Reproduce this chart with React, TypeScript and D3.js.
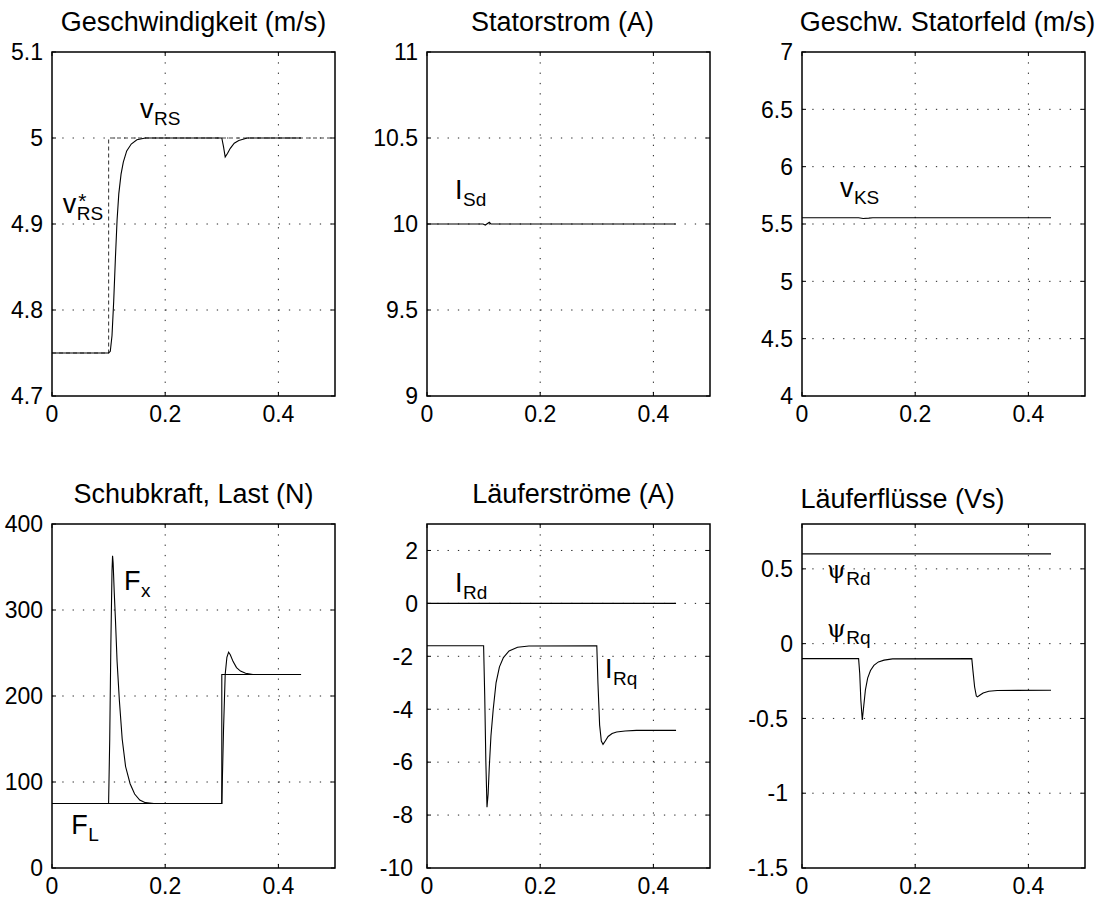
import React, { useRef, useEffect } from 'react';
import * as d3 from 'd3';

type Pt = [number, number];

// x axis is the same for all six panels (time in s)
const xTicks = [0, 0.2, 0.4];

// Geschwindigkeit
const vRefData: Pt[] = [[0, 4.75], [0.1, 4.75], [0.1, 5.0], [0.5, 5.0]];
const vRSData: Pt[] = [
  [0, 4.75], [0.1, 4.75], [0.103, 4.752], [0.106, 4.77], [0.109, 4.81], [0.112, 4.86],
  [0.115, 4.905], [0.118, 4.935], [0.122, 4.958], [0.126, 4.972], [0.132, 4.985],
  [0.14, 4.993], [0.15, 4.998], [0.165, 5.0], [0.3, 5.0], [0.303, 4.99], [0.306, 4.978],
  [0.31, 4.982], [0.315, 4.988], [0.322, 4.994], [0.33, 4.997], [0.345, 5.0], [0.44, 5.0],
];

// Statorstrom
const iSdData: Pt[] = [
  [0, 10], [0.099, 10], [0.103, 9.994], [0.107, 10.003], [0.11, 10.01], [0.113, 10.0],
  [0.3, 10], [0.44, 10],
];

// Geschw. Statorfeld
const vKSData: Pt[] = [
  [0, 5.555], [0.1, 5.555], [0.108, 5.548], [0.118, 5.551], [0.125, 5.555], [0.44, 5.555],
];

// Schubkraft, Last
const fLData: Pt[] = [[0, 75], [0.3, 75], [0.3, 225], [0.44, 225]];
const fXData: Pt[] = [
  [0, 75], [0.1, 75], [0.102, 150], [0.104, 260], [0.106, 345], [0.107, 363], [0.108, 355],
  [0.11, 320], [0.112, 290], [0.115, 240], [0.119, 195], [0.124, 150], [0.13, 118],
  [0.138, 98], [0.146, 86], [0.155, 79], [0.165, 76], [0.18, 75], [0.3, 75], [0.303, 160],
  [0.306, 225], [0.309, 245], [0.312, 251], [0.315, 248], [0.32, 240], [0.326, 233],
  [0.333, 229], [0.342, 226.5], [0.355, 225], [0.44, 225],
];

// Läuferströme
const iRdData: Pt[] = [[0, 0], [0.44, 0]];
const iRqData: Pt[] = [
  [0, -1.6], [0.1, -1.6], [0.102, -3.5], [0.104, -6.0], [0.106, -7.7], [0.108, -7.2],
  [0.11, -6.2], [0.113, -5.0], [0.117, -4.0], [0.122, -3.0], [0.128, -2.4], [0.135, -2.05],
  [0.145, -1.8], [0.16, -1.66], [0.18, -1.61], [0.3, -1.6], [0.302, -3.0], [0.305, -4.6],
  [0.308, -5.2], [0.311, -5.33], [0.315, -5.2], [0.32, -5.03], [0.327, -4.92],
  [0.335, -4.86], [0.35, -4.82], [0.37, -4.8], [0.44, -4.8],
];

// Läuferflüsse
const psiRdData: Pt[] = [[0, 0.6], [0.44, 0.6]];
const psiRqData: Pt[] = [
  [0, -0.1], [0.1, -0.1], [0.102, -0.2], [0.104, -0.38], [0.1065, -0.51], [0.109, -0.42],
  [0.112, -0.31], [0.116, -0.23], [0.121, -0.18], [0.127, -0.145], [0.135, -0.122],
  [0.145, -0.11], [0.16, -0.102], [0.3, -0.1], [0.302, -0.18], [0.305, -0.29],
  [0.308, -0.35], [0.31, -0.356], [0.314, -0.345], [0.32, -0.33], [0.33, -0.318],
  [0.345, -0.313], [0.44, -0.312],
];

const panels = [
  {
    title: 'Geschwindigkeit (m/s)', col: 0, row: 0, yDomain: [4.7, 5.1], yTicks: [4.7, 4.8, 4.9, 5, 5.1],
    series: [{ data: vRefData, dashed: true }, { data: vRSData }],
    labels: [
      { t: 0.1555, v: 5.023, main: 'v', sub: 'RS' },
      { t: 0.019, v: 4.913, main: 'v', sub: 'RS', sup: '*' },
    ],
  },
  {
    title: 'Statorstrom (A)', col: 1, row: 0, yDomain: [9, 11], yTicks: [9, 9.5, 10, 10.5, 11],
    titleDx: -6,
    series: [{ data: iSdData }],
    labels: [{ t: 0.0495, v: 10.145, main: 'I', sub: 'Sd' }],
  },
  {
    title: 'Geschw. Statorfeld (m/s)', col: 2, row: 0, yDomain: [4, 7], yTicks: [4, 4.5, 5, 5.5, 6, 6.5, 7],
    titleDx: 4,
    series: [{ data: vKSData }],
    labels: [{ t: 0.067, v: 5.736, main: 'v', sub: 'KS' }],
  },
  {
    title: 'Schubkraft, Last (N)', col: 0, row: 1, yDomain: [0, 400], yTicks: [0, 100, 200, 300, 400],
    series: [{ data: fLData }, { data: fXData }],
    labels: [
      { t: 0.127, v: 323, main: 'F', sub: 'x' },
      { t: 0.034, v: 39.5, main: 'F', sub: 'L' },
    ],
  },
  {
    title: 'Läuferströme (A)', col: 1, row: 1, yDomain: [-10, 3], yTicks: [-10, -8, -6, -4, -2, 0, 2],
    titleDx: 5,
    series: [{ data: iRdData }, { data: iRqData }],
    labels: [
      { t: 0.0495, v: 0.424, main: 'I', sub: 'Rd' },
      { t: 0.3145, v: -2.83, main: 'I', sub: 'Rq' },
    ],
  },
  {
    title: 'Läuferflüsse (Vs)', col: 2, row: 1, yDomain: [-1.5, 0.8], yTicks: [-1.5, -1, -0.5, 0, 0.5],
    titleDx: -41, titleDy: 5,
    series: [{ data: psiRdData }, { data: psiRqData }],
    labels: [
      { t: 0.044, v: 0.438, main: 'ψ', sub: 'Rd', serif: true },
      { t: 0.044, v: 0.042, main: 'ψ', sub: 'Rq', serif: true },
    ],
  },
];

const W = 1109;
const H = 899;
const colX = [52, 427, 802];
const rowY = [52, 524];
const titleBase = [31, 503];
const plotW = 283;
const plotH = 344;
const FONT = '"Liberation Sans", Arial, Helvetica, sans-serif';

function App() {
  const svgRef = useRef<SVGSVGElement>(null);

  useEffect(() => {
    const root = d3.select(svgRef.current);
    root.selectAll('*').remove();

    panels.forEach((p: any) => {
      const x0 = colX[p.col];
      const y0 = rowY[p.row];
      const x = d3.scaleLinear().domain([0, 0.5]).range([0, plotW]);
      const y = d3.scaleLinear().domain(p.yDomain).range([plotH, 0]);

      const g = root.append('g').attr('transform', `translate(${x0},${y0})`);

      // grid (dotted)
      const gridX = xTicks.filter(t => t > 0 && t < 0.5);
      const gridY = p.yTicks.filter((v: number) => v > p.yDomain[0] && v < p.yDomain[1]);
      g.selectAll('.gx').data(gridX).enter().append('line')
        .attr('x1', d => x(d)).attr('x2', d => x(d)).attr('y1', 0).attr('y2', plotH)
        .attr('stroke', '#222').attr('stroke-width', 1).attr('stroke-dasharray', '1.3,9');
      g.selectAll('.gy').data(gridY).enter().append('line')
        .attr('x1', 0).attr('x2', plotW).attr('y1', (d: number) => y(d)).attr('y2', (d: number) => y(d))
        .attr('stroke', '#222').attr('stroke-width', 1).attr('stroke-dasharray', '1.3,9');

      // curves
      const line = d3.line<Pt>().x(d => x(d[0])).y(d => y(d[1]));
      p.series.forEach((s: any) => {
        g.append('path')
          .datum(s.data)
          .attr('d', line)
          .attr('fill', 'none')
          .attr('stroke', s.dashed ? '#444' : '#000')
          .attr('stroke-width', 1.1)
          .attr('stroke-dasharray', s.dashed ? '4,3' : null);
      });

      // frame
      g.append('rect')
        .attr('x', 0).attr('y', 0).attr('width', plotW).attr('height', plotH)
        .attr('fill', 'none').attr('stroke', '#000').attr('stroke-width', 1.5);

      // inward ticks on all four sides
      const tl = 4;
      xTicks.forEach(t => {
        g.append('line').attr('x1', x(t)).attr('x2', x(t)).attr('y1', plotH).attr('y2', plotH - tl).attr('stroke', '#000');
        g.append('line').attr('x1', x(t)).attr('x2', x(t)).attr('y1', 0).attr('y2', tl).attr('stroke', '#000');
      });
      p.yTicks.forEach((v: number) => {
        g.append('line').attr('x1', 0).attr('x2', tl).attr('y1', y(v)).attr('y2', y(v)).attr('stroke', '#000');
        g.append('line').attr('x1', plotW).attr('x2', plotW - tl).attr('y1', y(v)).attr('y2', y(v)).attr('stroke', '#000');
      });

      // tick labels
      g.selectAll('.xl').data(xTicks).enter().append('text')
        .attr('x', d => x(d)).attr('y', plotH + 26)
        .attr('text-anchor', 'middle')
        .style('font-family', FONT).style('font-size', '23px').attr('fill', '#000')
        .text(d => String(d));
      g.selectAll('.yl').data(p.yTicks).enter().append('text')
        .attr('x', (d: number) => (d < 0 ? -14 : -9)).attr('y', (d: number) => y(d))
        .attr('dy', '0.36em')
        .attr('text-anchor', 'end')
        .style('font-family', FONT).style('font-size', '23px').attr('fill', '#000')
        .text((d: number) => String(d));

      // title
      g.append('text')
        .attr('x', plotW / 2 + (p.titleDx || 0))
        .attr('y', titleBase[p.row] - y0 + (p.titleDy || 0))
        .attr('text-anchor', 'middle')
        .style('font-family', FONT).style('font-size', '27px').attr('fill', '#000')
        .text(p.title);

      // curve labels with subscript / superscript
      p.labels.forEach((l: any) => {
        const lx = x(l.t);
        const ly = y(l.v);
        const m = g.append('text')
          .attr('x', lx).attr('y', ly)
          .style('font-family', l.serif ? '"DejaVu Serif", "Liberation Serif", serif' : FONT)
          .style('font-size', l.serif ? '24px' : '27px')
          .attr('fill', '#000')
          .text(l.main);
        const w = (m.node() as SVGTextElement).getComputedTextLength();
        g.append('text')
          .attr('x', lx + w + 0.5).attr('y', ly + 7)
          .style('font-family', FONT).style('font-size', '19px').attr('fill', '#000')
          .text(l.sub);
        if (l.sup) {
          g.append('text')
            .attr('x', lx + w + 2).attr('y', ly - 5)
            .style('font-family', FONT).style('font-size', '21px').attr('fill', '#000')
            .text(l.sup);
        }
      });
    });
  }, []);

  return (
    <svg
      ref={svgRef}
      width={W}
      height={H}
      style={{ position: 'absolute', left: 0, top: 0, background: '#fff' }}
    />
  );
}

export default App;
